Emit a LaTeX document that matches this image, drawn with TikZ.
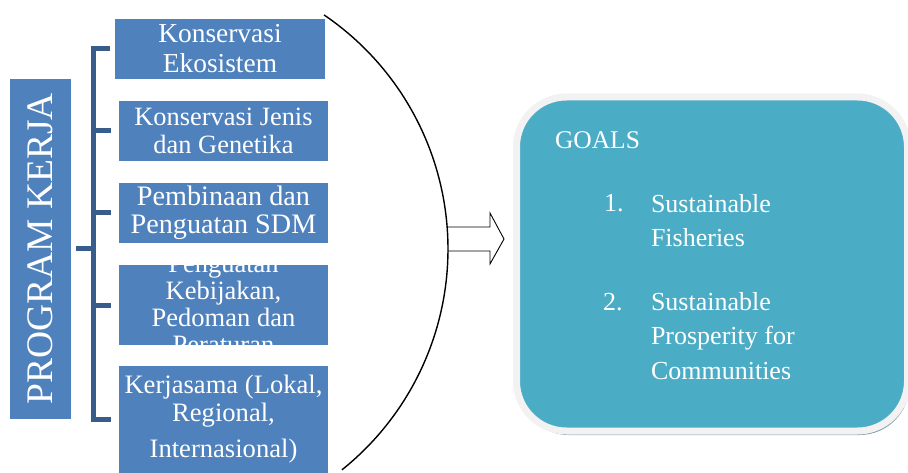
\documentclass[tikz,border=0pt]{standalone}
\usepackage{fontspec}
\usepackage{graphicx}
\setmainfont{Liberation Serif}
\usetikzlibrary{shadows}

\definecolor{boxblue}{RGB}{79,129,189}
\definecolor{brackblue}{RGB}{56,93,138}
\definecolor{goalteal}{RGB}{75,172,198}
\definecolor{rimgray}{RGB}{242,242,242}
\definecolor{shadegray}{RGB}{118,146,160}

\begin{document}
\begin{tikzpicture}[x=1pt,y=-1pt,
  bluebox/.style={fill=boxblue, text=white, inner sep=0pt, outer sep=0pt,
    align=center, minimum width=209pt},
  brk/.style={draw=brackblue, line width=5pt},
  arcline/.style={draw=black, line width=1.4pt},
  blockarrow/.style={draw=black, fill=white, line width=0.9pt, line join=miter},
  goalsbox/.style={fill=goalteal, draw=rimgray, line width=7pt,
    rounded corners=50pt, minimum width=391pt, minimum height=334pt,
    drop shadow={shadow xshift=2pt, shadow yshift=-4pt, fill=shadegray, opacity=0.9}},
  gtext/.style={text=white, inner sep=0pt, outer sep=0pt,
    font=\fontsize{26}{34.5}\selectfont}]

\useasboundingbox (0,0) rectangle (908,473);

% left column title
\node[bluebox, minimum width=61pt, minimum height=340pt,
  font=\fontsize{37.5}{40}\selectfont] (prog) at (40.5,249)
  {\rotatebox{90}{PROGRAM KERJA}};

% program boxes
\node[bluebox, minimum width=210pt, minimum height=60pt,
  font=\fontsize{27.4}{30}\selectfont] (b1) at (220,49)
  {Konservasi\\Ekosistem};
\node[bluebox, minimum height=60pt,
  font=\fontsize{26.4}{28}\selectfont] (b2) at (223.5,131)
  {Konservasi Jenis\\dan Genetika};
\node[bluebox, minimum height=60pt,
  font=\fontsize{28.2}{28}\selectfont] (b3) at (223.5,213)
  {Pembinaan dan\\Penguatan SDM};
\node[bluebox, minimum height=80pt,
  path picture={\node[text=white, align=center, inner sep=0pt,
    font=\fontsize{26.5}{26.7}\selectfont]
    at ([yshift=0.5pt]path picture bounding box.center)
    {Penguatan\\Kebijakan,\\Pedoman dan\\Peraturan};}] (b4) at (223.5,305) {};
\node[bluebox, minimum height=107pt,
  font=\fontsize{26.6}{28}\selectfont] (b5) at (223.5,419.5)
  {Kerjasama (Lokal,\\Regional,\\[8pt]Internasional)};

% bracket joining the title to the boxes
\coordinate (sp) at (93.5,0);
\draw[brk] ([xshift=5pt]prog.east) -- (sp |- prog.east);
\draw[brk] ([xshift=-5pt]b1.west) -| (sp |- b5.west) -- ([xshift=-8pt]b5.west);
\draw[brk] (sp |- b2.west) -- ([xshift=-8pt]b2.west);
\draw[brk] (sp |- b3.west) -- ([xshift=-8pt]b3.west);
\draw[brk] (sp |- b4.west) -- ([xshift=-8pt]b4.west);

% goals panel
\node[goalsbox] (goals) at (712,264) {};

% block arrow from the arc to the goals panel
\coordinate (arrtail) at (448,239);
\draw[blockarrow] ([yshift=12pt]arrtail) -- ++(42,0) -- ++(0,-14)
  -- ++(14,26) -- ++(-14,25) -- ++(0,-13) -- ([yshift=-12pt]arrtail);

% arc enclosing the program boxes
\coordinate (ac) at (165,249);
\draw[arcline] ([shift={(-55.8:283)}]ac) arc[start angle=-55.8, end angle=51.3, radius=283];

% goals text (multi-line nodes sit on the baseline of their last line)
\node[gtext, anchor=base west, font=\fontsize{25.5}{30}\selectfont] (gtitle) at (555,149) {GOALS};
\node[gtext, anchor=base west] (n1) at (604,212) {1.};
\node[gtext, anchor=base west, align=left] (t1) at (651,247) {Sustainable\\Fisheries};
\node[gtext, anchor=base west] (n2) at (603,310) {2.};
\node[gtext, anchor=base west, align=left] (t2) at (651,379) {Sustainable\\Prosperity for\\Communities};
\end{tikzpicture}
\end{document}
